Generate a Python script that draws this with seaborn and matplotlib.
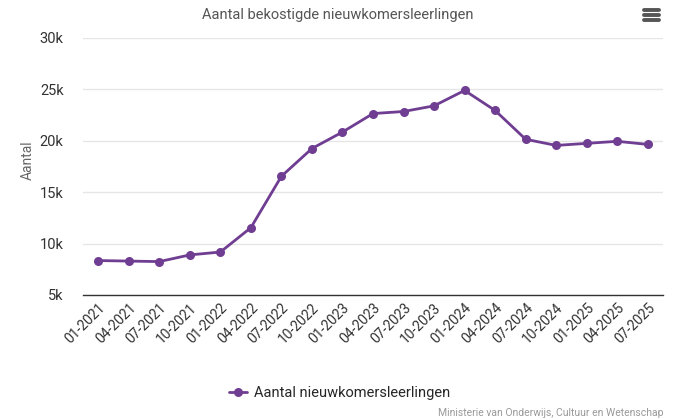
import numpy as np
import pandas as pd
import matplotlib
matplotlib.use("Agg")
import matplotlib.pyplot as plt
import seaborn as sns
from matplotlib.lines import Line2D
from matplotlib.ticker import FuncFormatter

periods = ['01-2021', '04-2021', '07-2021', '10-2021', '01-2022', '04-2022', '07-2022',
           '10-2022', '01-2023', '04-2023', '07-2023', '10-2023', '01-2024', '04-2024',
           '07-2024', '10-2024', '01-2025', '04-2025', '07-2025']
leerlingen = [8350, 8300, 8250, 8900, 9180, 11550, 16550, 19250, 20850, 22650, 22850,
              23400, 24900, 22950, 20150, 19550, 19750, 19950, 19650]
yticks = [5000, 10000, 15000, 20000, 25000, 30000]

purple = '#6f3d91'

sns.set_style("white")
plt.rcParams['font.family'] = ['Roboto', 'DejaVu Sans']

df = pd.DataFrame({'periode': periods, 'aantal': leerlingen})

fig = plt.figure(figsize=(6.76, 4.2), dpi=100)
ax = fig.add_axes([83 / 676, 1 - 295 / 420, 580 / 676, 257 / 420])

sns.lineplot(data=df, x='periode', y='aantal', sort=False, color=purple, lw=2,
             marker='o', markersize=6.5, markeredgewidth=0, ax=ax,
             label='Aantal nieuwkomersleerlingen', legend=False)

ax.set_xlim(-0.5, len(periods) - 0.5)
ax.set_ylim(5000, 30000)
ax.set_yticks(yticks)
ax.yaxis.set_major_formatter(FuncFormatter(lambda v, p: f'{int(v / 1000)}k'))
ax.grid(axis='y', color='#e6e6e6', lw=1)
ax.set_axisbelow(True)
for s in ['top', 'right', 'left']:
    ax.spines[s].set_visible(False)
ax.spines['bottom'].set_color('#333333')
ax.spines['bottom'].set_linewidth(1)

ax.tick_params(axis='y', length=0, labelsize=10.5, colors='#333333', pad=14)
ax.tick_params(axis='x', length=0, labelsize=10, colors='#333333', pad=4)
plt.setp(ax.get_xticklabels(), rotation=45, ha='right', rotation_mode='anchor')

ax.set_xlabel('')
ax.set_ylabel('Aantal', fontsize=10, color='#666666', va='center')
ax.yaxis.set_label_coords(-0.095, 0.525)

fig.text(0.5, 1 - 15 / 420, 'Aantal bekostigde nieuwkomersleerlingen', ha='center',
         va='center', fontsize=10.5, color='#555555')

# menu icon
for yy in [10, 15, 20]:
    fig.add_artist(Line2D([644 / 676, 659 / 676], [1 - yy / 420, 1 - yy / 420],
                          color='#555555', lw=2.8, solid_capstyle='round'))

handles, labels = ax.get_legend_handles_labels()
fig.legend(handles, labels, loc='center', bbox_to_anchor=(340 / 676, 1 - 393 / 420),
           frameon=False, fontsize=10.5, handlelength=1.2, handletextpad=0.5)

fig.text(664 / 676, 1 - 413 / 420, 'Ministerie van Onderwijs, Cultuur en Wetenschap',
         ha='right', va='center', fontsize=7.5, color='#999999')

fig.savefig('out.png', dpi=100)
